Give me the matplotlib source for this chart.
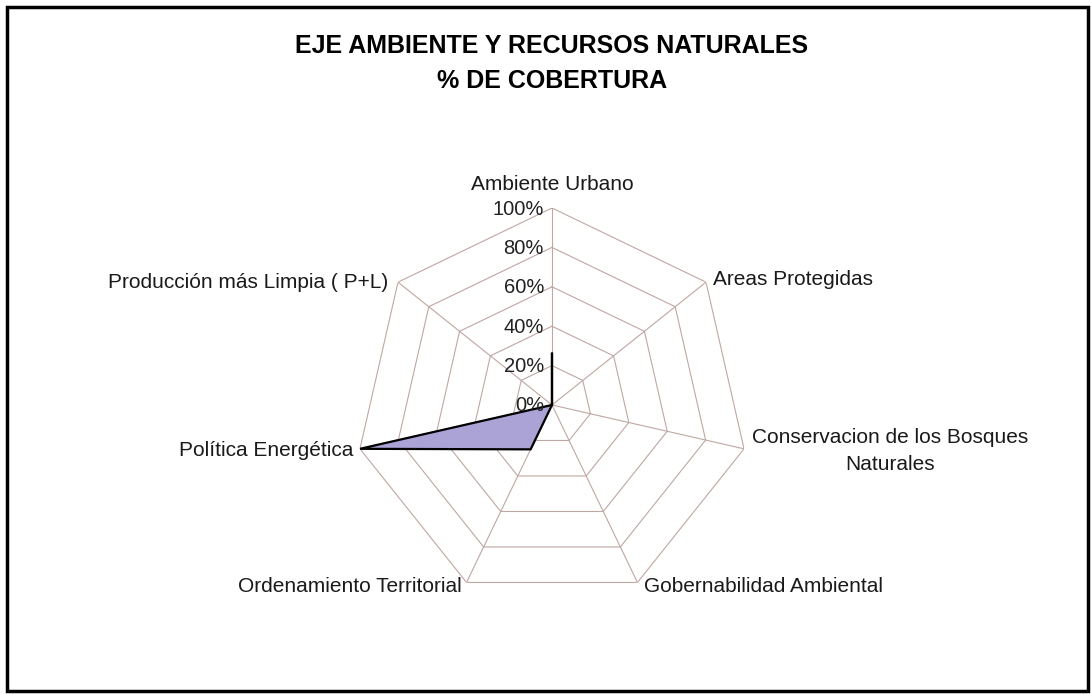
import numpy as np
import matplotlib
matplotlib.use('Agg')
import matplotlib.pyplot as plt
from matplotlib.patches import Rectangle

plt.rcParams['font.family'] = ['Liberation Sans', 'DejaVu Sans']

# data
categories = ['Ambiente Urbano', 'Areas Protegidas', 'Conservacion de los Bosques\nNaturales',
              'Gobernabilidad Ambiental', 'Ordenamiento Territorial', 'Política Energética',
              'Producción más Limpia ( P+L)']
cobertura = [0.26, 0.0, 0.0, 0.0, 0.25, 1.0, 0.0]
rings = [0.0, 0.2, 0.4, 0.6, 0.8, 1.0]
ring_labels = ['0%', '20%', '40%', '60%', '80%', '100%']

# label placement (offset pixels from spoke tip, alignment)
label_pos = [((0, 24), 'center', 'center'),
             ((7, 3), 'left', 'center'),
             ((8, -2), 'left', 'center'),
             ((7, -4), 'left', 'center'),
             ((-5, -4), 'right', 'center'),
             ((-7, -2), 'right', 'center'),
             ((-10, 0), 'right', 'center')]

grid_col = '#BFA7A2'

n = len(categories)
theta = np.linspace(0, 2 * np.pi, n, endpoint=False)
theta_c = np.append(theta, theta[0])

fig = plt.figure(figsize=(10.91, 6.94), dpi=100)
fig.patch.set_facecolor('white')
ax = fig.add_axes([0.3254, 0.1326, 0.3611, 0.5677], projection='polar')
ax.set_theta_zero_location('N')
ax.set_theta_direction(-1)
ax.set_ylim(0, 1)
ax.grid(False)
ax.set_xticks([])
ax.set_yticks([])
ax.spines['polar'].set_visible(False)
ax.patch.set_alpha(0)

# heptagon grid + spokes
for r in rings[1:]:
    ax.plot(theta_c, [r] * (n + 1), color=grid_col, lw=0.8, zorder=1)
for t in theta:
    ax.plot([t, t], [0, 1], color=grid_col, lw=0.8, zorder=1)

# data series
vals = np.append(cobertura, cobertura[0])
ax.fill(theta_c, vals, color='#ABA3D5', zorder=2)
ax.plot(theta_c, vals, color='black', lw=1.6, zorder=3)

# value labels along first spoke
for r, lab in zip(rings, ring_labels):
    ax.annotate(lab, xy=(0, r), xytext=(-8, -1), textcoords='offset pixels',
                ha='right', va='center', fontsize=14.5, color='#222222', zorder=4)

# category labels
for t, lab, (off, ha, va) in zip(theta, categories, label_pos):
    ax.annotate(lab, xy=(t, 1.0), xytext=off, textcoords='offset pixels',
                ha=ha, va=va, multialignment='center', linespacing=1.5,
                fontsize=15, color='#1a1a1a')

fig.text(0.506, 1 - 46 / 694, 'EJE AMBIENTE Y RECURSOS NATURALES', ha='center', va='center',
         fontsize=18, fontweight='bold')
fig.text(0.506, 1 - 81 / 694, '% DE COBERTURA', ha='center', va='center',
         fontsize=18, fontweight='bold')

fig.patches.append(Rectangle((0.006, 0.005), 0.991, 0.985, transform=fig.transFigure,
                             fill=False, edgecolor='black', lw=2.5))

fig.savefig('out.png', dpi=100)
